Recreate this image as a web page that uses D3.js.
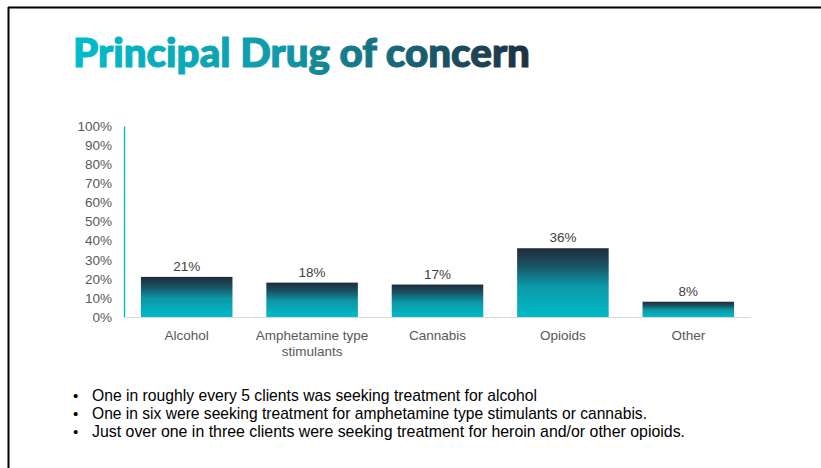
<!DOCTYPE html>
<html>
<head>
<meta charset="utf-8">
<script src="https://cdn.jsdelivr.net/npm/d3@7"></script>
<style>
  html, body { margin: 0; padding: 0; background: #fff; }
  svg { display: block; }
</style>
</head>
<body>
<svg id="chart" width="821" height="468"></svg>
<script>
// Share of clients by principal drug of concern
const categories = ["Alcohol", "Amphetamine type stimulants", "Cannabis", "Opioids", "Other"];
const shares = [21, 18, 17, 36, 8];
const yTicks = [0, 10, 20, 30, 40, 50, 60, 70, 80, 90, 100];
const notes = [
  "One in roughly every 5 clients was seeking treatment for alcohol",
  "One in six were seeking treatment for amphetamine type stimulants or cannabis.",
  "Just over one in three clients were seeking treatment for heroin and/or other opioids."
];

const svg = d3.select("#chart");
const defs = svg.append("defs");

// Slide frame (top and left rules)
svg.append("line").attr("x1", 8).attr("x2", 821).attr("y1", 7.5).attr("y2", 7.5)
  .attr("stroke", "#000").attr("stroke-width", 2);
svg.append("line").attr("x1", 8.5).attr("x2", 8.5).attr("y1", 7).attr("y2", 468)
  .attr("stroke", "#000").attr("stroke-width", 2);

// Title with teal-to-navy gradient
const tg = defs.append("linearGradient").attr("id", "titleGrad")
  .attr("gradientUnits", "userSpaceOnUse").attr("x1", 73).attr("x2", 530).attr("y1", 0).attr("y2", 0);
tg.append("stop").attr("offset", "0%").attr("stop-color", "#00bccb");
tg.append("stop").attr("offset", "45%").attr("stop-color", "#119aa9");
tg.append("stop").attr("offset", "100%").attr("stop-color", "#1e2f40");
svg.append("text")
  .attr("x", 73).attr("y", 67)
  .attr("font-family", "Lato, 'Open Sans', sans-serif")
  .attr("font-weight", 900)
  .attr("font-size", 39)
  .attr("textLength", 457)
  .attr("lengthAdjust", "spacingAndGlyphs")
  .attr("fill", "url(#titleGrad)")
  .attr("stroke", "url(#titleGrad)")
  .attr("stroke-width", 1.1)
  .text("Principal Drug of concern");

// Plot area
const x0 = 124, x1 = 751, yTop = 126, yBottom = 317;
const x = d3.scaleBand().domain(categories).range([x0, x1]).paddingInner(0.27).paddingOuter(0.135);
const y = d3.scaleLinear().domain([0, 100]).range([yBottom, yTop]);

// Bar gradient: navy at top fading to teal
const bg = defs.append("linearGradient").attr("id", "barGrad")
  .attr("x1", 0).attr("x2", 0).attr("y1", 0).attr("y2", 1);
bg.append("stop").attr("offset", "0%").attr("stop-color", "#1e2c3c");
bg.append("stop").attr("offset", "25%").attr("stop-color", "#1a5262");
bg.append("stop").attr("offset", "55%").attr("stop-color", "#0c99a8");
bg.append("stop").attr("offset", "100%").attr("stop-color", "#00bac8");

const font = "'Liberation Sans', Arial, sans-serif";

// Y axis
const yAxis = svg.append("g").attr("transform", `translate(${x0},0)`)
  .call(d3.axisLeft(y).tickValues(yTicks).tickFormat(d => d + "%").tickSize(0).tickPadding(12));
yAxis.select(".domain").attr("stroke", "#00b4c4").attr("stroke-width", 1.3);
yAxis.selectAll("text").attr("font-family", font).attr("font-size", 13.5).attr("fill", "#595959");

// Baseline
svg.append("line").attr("x1", x0).attr("x2", x1).attr("y1", yBottom + 0.5).attr("y2", yBottom + 0.5)
  .attr("stroke", "#d9d9d9").attr("stroke-width", 1);

// Bars
svg.append("g").selectAll("rect").data(categories).join("rect")
  .attr("x", d => x(d))
  .attr("width", x.bandwidth())
  .attr("y", (d, i) => y(shares[i]))
  .attr("height", (d, i) => yBottom - y(shares[i]))
  .attr("fill", "url(#barGrad)");

// Value labels
svg.append("g").selectAll("text").data(categories).join("text")
  .attr("x", d => x(d) + x.bandwidth() / 2)
  .attr("y", (d, i) => y(shares[i]) - 6)
  .attr("text-anchor", "middle")
  .attr("font-family", font).attr("font-size", 13.5).attr("fill", "#404040")
  .text((d, i) => shares[i] + "%");

// Category labels (wrapped where long)
const catLabels = svg.append("g").selectAll("text").data(categories).join("text")
  .attr("x", d => x(d) + x.bandwidth() / 2)
  .attr("y", 340)
  .attr("text-anchor", "middle")
  .attr("font-family", font).attr("font-size", 13.5).attr("fill", "#595959");
catLabels.each(function(d) {
  const lines = d === "Amphetamine type stimulants" ? ["Amphetamine type", "stimulants"] : [d];
  const t = d3.select(this);
  lines.forEach((ln, i) => {
    t.append("tspan").attr("x", x(d) + x.bandwidth() / 2).attr("dy", i === 0 ? 0 : 16).text(ln);
  });
});

// Bullet notes
const noteWidths = [445, 555, 593];
const ng = svg.append("g");
notes.forEach((n, i) => {
  const yy = 400.5 + i * 18.3;
  ng.append("text").attr("x", 73).attr("y", yy)
    .attr("font-family", font).attr("font-size", 15).attr("fill", "#000").text("•");
  ng.append("text").attr("x", 92).attr("y", yy)
    .attr("font-family", "'Liberation Sans Narrow', 'Liberation Sans', Arial, sans-serif")
    .attr("font-size", 17).attr("fill", "#000")
    .attr("textLength", noteWidths[i]).attr("lengthAdjust", "spacingAndGlyphs")
    .text(n);
});
</script>
</body>
</html>
